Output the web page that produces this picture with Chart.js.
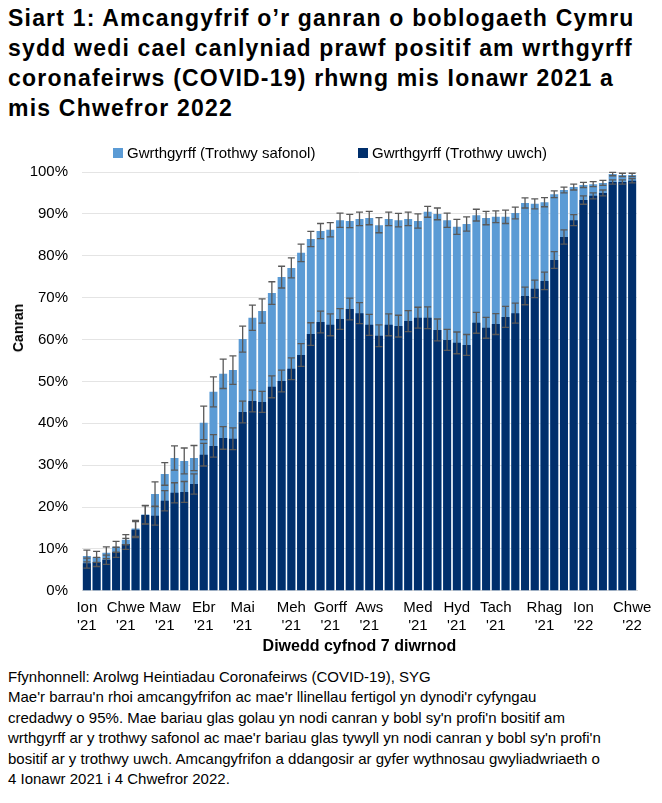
<!DOCTYPE html>
<html>
<head>
<meta charset="utf-8">
<script src="https://cdn.jsdelivr.net/npm/chart.js@4/dist/chart.umd.min.js"></script>
<style>
  body { margin: 0; background: #fff; font-family: "Liberation Sans", Arial, sans-serif; color: #000; }
  #title { position: absolute; left: 8px; top: 3px; font-size: 23px; font-weight: bold; line-height: 30px; letter-spacing: 1.2px; white-space: nowrap; }
  #wrap { position: absolute; left: 0; top: 130px; width: 662px; height: 532px; }
  #ytitle { position: absolute; left: 18px; top: 328px; font-size: 14px; font-weight: bold; transform: translate(-50%, -50%) rotate(-90deg); white-space: nowrap; }
  #note { position: absolute; left: 8px; top: 667px; font-size: 15px; line-height: 20.4px; white-space: nowrap; }
  .leg { position: absolute; top: 144px; font-size: 15px; line-height: 18px; white-space: nowrap; }
  .leg i { display: inline-block; width: 10px; height: 10px; margin-right: 4px; vertical-align: 0; }
</style>
</head>
<body>
<div id="title">Siart 1: Amcangyfrif o’r ganran o boblogaeth Cymru<br>sydd wedi cael canlyniad prawf positif am wrthgyrff<br>coronafeirws (COVID-19) rhwng mis Ionawr 2021 a<br>mis Chwefror 2022</div>
<div id="wrap"><canvas id="chart"></canvas></div>
<div class="leg" id="leg0" style="left:113px"></div>
<div class="leg" id="leg1" style="left:358px"></div>
<div id="ytitle">Canran</div>
<div id="note">Ffynhonnell: Arolwg Heintiadau Coronafeirws (COVID-19), SYG<br>Mae'r barrau'n rhoi amcangyfrifon ac mae'r llinellau fertigol yn dynodi'r cyfyngau<br>credadwy o 95%. Mae bariau glas golau yn nodi canran y bobl sy'n profi'n bositif am<br>wrthgyrff ar y trothwy safonol ac mae'r bariau glas tywyll yn nodi canran y bobl sy'n profi'n<br>bositif ar y trothwy uwch. Amcangyfrifon a ddangosir ar gyfer wythnosau gwyliadwriaeth o<br>4 Ionawr 2021 i 4 Chwefror 2022.</div>
<script>
// Label for each weekly bar (only the first week of each month is labelled)
const weekLabels = [
    ['Ion', "'21"], '', '', '', ['Chwe', "'21"], '', '', '', ['Maw', "'21"], '', '', '',
    ['Ebr', "'21"], '', '', '', ['Mai', "'21"], '', '', '', '', ['Meh', "'21"], '', '', '',
    ['Gorff', "'21"], '', '', '', ['Aws', "'21"], '', '', '', '', ['Med', "'21"], '', '', '',
    ['Hyd', "'21"], '', '', '', ['Tach', "'21"], '', '', '', '', ['Rhag', "'21"], '', '', '',
    ['Ion', "'22"], '', '', '', '', ['Chwe', "'22"]
];

const seriesNames = ['Gwrthgyrff (Trothwy safonol)', 'Gwrthgyrff (Trothwy uwch)'];

// Trothwy safonol (light blue), %
const standardValues = [
    8.3, 8.1, 9.1, 10.5, 12.2, 14.9, 18.2, 23.1, 27.9, 31.7, 31.0, 31.7,
    40.1, 47.5, 51.8, 52.7, 60.1, 65.2, 66.8, 71.1, 74.9, 77.1, 80.7, 84.0,
    85.9, 86.2, 88.5, 88.3, 88.8, 89.0, 87.3, 88.8, 88.5, 88.8, 88.3, 90.5,
    90.0, 88.5, 86.9, 87.6, 89.7, 89.0, 89.3, 89.3, 90.2, 92.6, 92.4, 92.8,
    94.7, 95.7, 96.4, 96.9, 97.1, 97.4, 99.5, 99.3, 99.3
];
const standardErrors = [
    1.4, 1.3, 1.4, 1.3, 1.2, 1.9, 2.2, 2.9, 2.7, 2.9, 3.1, 3.0,
    4.0, 3.6, 3.5, 3.4, 3.1, 3.0, 2.9, 2.7, 2.6, 2.4, 2.1, 1.8,
    1.8, 1.7, 1.7, 1.6, 1.6, 1.6, 1.8, 1.6, 1.6, 1.6, 1.7, 1.3,
    1.4, 1.7, 1.8, 1.7, 1.4, 1.6, 1.4, 1.6, 1.4, 1.2, 1.2, 1.1,
    0.8, 0.7, 0.7, 0.6, 0.6, 0.6, 0.4, 0.4, 0.4
];

// Trothwy uwch (dark blue), %
const highValues = [
    6.6, 6.9, 7.4, 9.2, 11.2, 14.6, 18.1, 17.9, 21.5, 23.4, 23.6, 25.5,
    32.5, 34.6, 36.5, 36.3, 42.7, 45.3, 45.1, 48.7, 50.1, 53.0, 56.3, 61.3,
    64.2, 63.5, 64.9, 67.3, 66.3, 63.5, 60.9, 63.5, 63.2, 64.4, 65.2, 65.2,
    62.3, 59.9, 59.2, 58.7, 64.0, 62.8, 63.7, 65.4, 66.3, 70.4, 72.1, 74.0,
    79.0, 84.5, 88.5, 93.3, 94.3, 95.0, 97.6, 97.6, 97.9
];
const highErrors = [
    1.2, 1.1, 1.1, 1.2, 1.3, 1.9, 2.2, 2.2, 2.4, 2.4, 2.5, 2.4,
    2.7, 2.7, 2.7, 2.6, 2.6, 2.6, 2.5, 2.6, 2.6, 2.6, 2.7, 2.7,
    2.6, 2.6, 2.5, 2.6, 2.5, 2.5, 2.6, 2.6, 2.6, 2.5, 2.5, 2.6,
    2.6, 2.5, 2.6, 2.5, 2.5, 2.5, 2.5, 2.5, 2.4, 2.1, 2.1, 2.1,
    2.0, 1.7, 1.3, 1.0, 0.7, 0.7, 0.5, 0.5, 0.5
];

const COLORS = {
    light: '#5b9bd5',
    dark: '#002f6c',
    err: '#595959',
    grid: '#e4e4e4'
};

// legend (kept outside the canvas so the wide gap between items matches)
[COLORS.light, COLORS.dark].forEach((c, i) => {
    const el = document.getElementById('leg' + i);
    el.innerHTML = '<i style="background:' + c + '"></i>' + seriesNames[i];
});

// 95% credible interval whiskers
const errorBarPlugin = {
    id: 'errorBars',
    afterDatasetsDraw(chart) {
        const ctx = chart.ctx;
        const yScale = chart.scales.y;
        ctx.save();
        ctx.strokeStyle = COLORS.err;
        ctx.lineWidth = 1.3;
        chart.data.datasets.forEach((ds, di) => {
            const meta = chart.getDatasetMeta(di);
            meta.data.forEach((bar, i) => {
                const v = ds.data[i];
                const e = ds.errors[i];
                const top = yScale.getPixelForValue(v + e);
                const bot = yScale.getPixelForValue(v - e);
                const cap = 3.5;
                ctx.beginPath();
                ctx.moveTo(bar.x, top);
                ctx.lineTo(bar.x, bot);
                ctx.moveTo(bar.x - cap, top);
                ctx.lineTo(bar.x + cap, top);
                ctx.moveTo(bar.x - cap, bot);
                ctx.lineTo(bar.x + cap, bot);
                ctx.stroke();
            });
        });
        ctx.restore();
    }
};

Chart.defaults.font.family = '"Liberation Sans", Arial, sans-serif';
Chart.defaults.color = '#000';

new Chart(document.getElementById('chart'), {
    type: 'bar',
    data: {
        labels: weekLabels,
        datasets: [
            {
                label: seriesNames[0],
                data: standardValues,
                errors: standardErrors,
                backgroundColor: COLORS.light,
                order: 2
            },
            {
                label: seriesNames[1],
                data: highValues,
                errors: highErrors,
                backgroundColor: COLORS.dark,
                order: 1
            }
        ]
    },
    options: {
        responsive: true,
        maintainAspectRatio: false,
        animation: false,
        datasets: {
            bar: { categoryPercentage: 1, barPercentage: 0.82 }
        },
        layout: { padding: { top: 42, right: 25, bottom: 6, left: 0 } },
        plugins: {
            tooltip: { enabled: false },
            legend: { display: false }
        },
        scales: {
            x: {
                stacked: true,
                grid: { display: false },
                border: { display: true, color: '#d9d9d9' },
                ticks: {
                    autoSkip: false,
                    maxRotation: 0,
                    padding: 0,
                    font: { size: 15 },
                    color: '#000'
                },
                title: {
                    display: true,
                    text: 'Diwedd cyfnod 7 diwrnod',
                    font: { size: 16, weight: 'bold' },
                    padding: { top: 2, bottom: 0 }
                }
            },
            y: {
                min: 0,
                max: 100,
                afterFit(scale) { scale.width = 82; },
                border: { display: false },
                grid: { color: COLORS.grid, drawTicks: false },
                ticks: {
                    stepSize: 10,
                    padding: 14,
                    font: { size: 15 },
                    callback: (v) => v + '%'
                }
            }
        }
    },
    plugins: [errorBarPlugin]
});
</script>
</body>
</html>
